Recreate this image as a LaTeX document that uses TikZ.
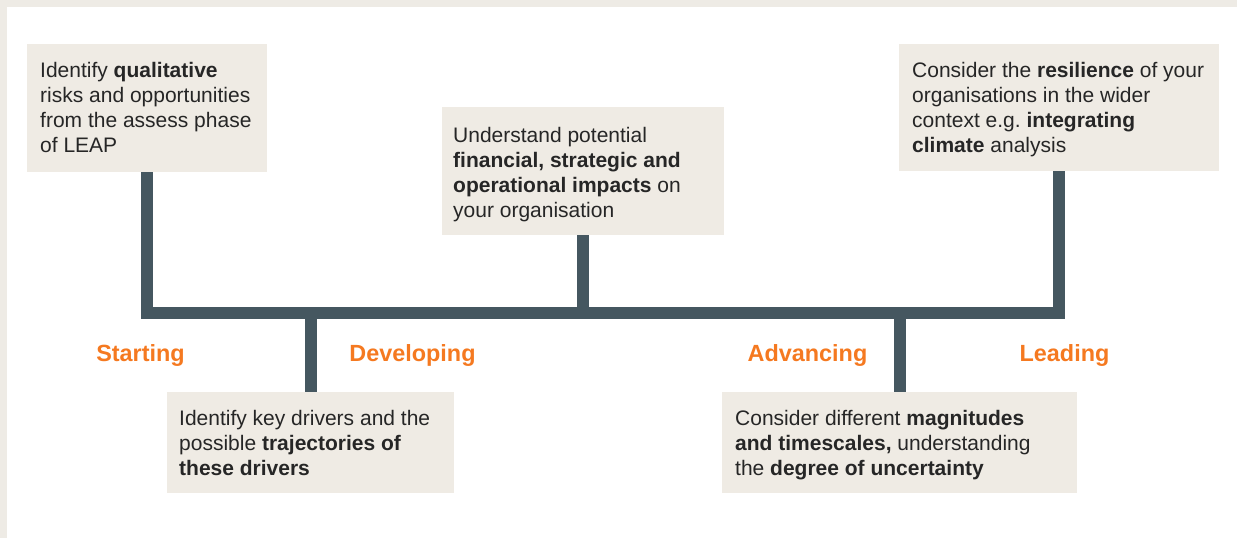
\documentclass[tikz,border=0pt]{standalone}
\usepackage{fontspec}
\setmainfont{Liberation Sans}
\definecolor{framebg}{RGB}{238,235,229}
\definecolor{boxbg}{RGB}{239,235,228}
\definecolor{barcol}{RGB}{69,87,96}
\definecolor{stageorange}{RGB}{245,121,32}
\definecolor{txt}{RGB}{38,38,38}
\tikzset{
  infobox/.style={fill=boxbg, draw=none, anchor=north west, inner sep=0pt},
  infotext/.style={anchor=base west, inner sep=0pt, text=txt},
  stage/.style={anchor=base, inner sep=0pt, text=stageorange, font=\fontsize{23.4}{27}\selectfont\bfseries},
  barline/.style={draw=barcol, line width=12pt, miter limit=10},
}
\newcommand{\boxtext}[2]{\parbox[t]{#1}{\fontsize{21}{25.3}\selectfont\raggedright #2}}
\begin{document}
\begin{tikzpicture}[x=1pt,y=-1pt]
\useasboundingbox (0,0) rectangle (1237,538);
\fill[framebg] (0,0) rectangle (1237,538);
\fill[white] (7,7) rectangle (1237,538);

% boxes
\node[infobox, minimum width=240pt, minimum height=128pt] (b1) at (27,44) {};
\node[infobox, minimum width=282pt, minimum height=128pt] (b3) at (442,107) {};
\node[infobox, minimum width=320pt, minimum height=127pt] (b5) at (899,44) {};
\node[infobox, minimum width=287pt, minimum height=101pt] (b2) at (167,392) {};
\node[infobox, minimum width=355pt, minimum height=101pt] (b4) at (722,392) {};

% texts
\node[infotext] (t1) at (40,77) {\boxtext{225pt}{Identify \textbf{qualitative}\\ risks and opportunities\\ from the assess phase\\ of LEAP}};
\node[infotext] (t3) at (453,142) {\boxtext{265pt}{Understand potential\\ \textbf{financial, strategic and}\\ \textbf{operational impacts} on\\ your organisation}};
\node[infotext] (t5) at (912,77) {\boxtext{305pt}{Consider the \textbf{resilience} of your\\ organisations in the wider\\ context e.g.\ \textbf{integrating}\\ \textbf{climate} analysis}};
\node[infotext] (t2) at (179,425) {\boxtext{270pt}{Identify key drivers and the\\ possible \textbf{trajectories of}\\ \textbf{these drivers}}};
\node[infotext] (t4) at (735,425) {\boxtext{340pt}{Consider different \textbf{magnitudes}\\ \textbf{and timescales,} understanding\\ the \textbf{degree of uncertainty}}};

% connector bar
\coordinate (j1) at (b1.south |- 0,313);
\coordinate (j5) at (b5.south |- 0,313);
\draw[barline] (b1.south) -- (j1) -- (j5) -- (b5.south);
\draw[barline] (b3.south) -- (b3.south |- j1);
\draw[barline] (b2.north |- j1) -- (b2.north);
\draw[barline] (b4.north |- j1) -- (b4.north);

% stage labels
\node[stage] (s1) at (140.5,361) {Starting};
\node[stage] (s2) at (412.5,361) {Developing};
\node[stage] (s3) at (807.5,361) {Advancing};
\node[stage] (s4) at (1064.5,361) {Leading};
\end{tikzpicture}
\end{document}
